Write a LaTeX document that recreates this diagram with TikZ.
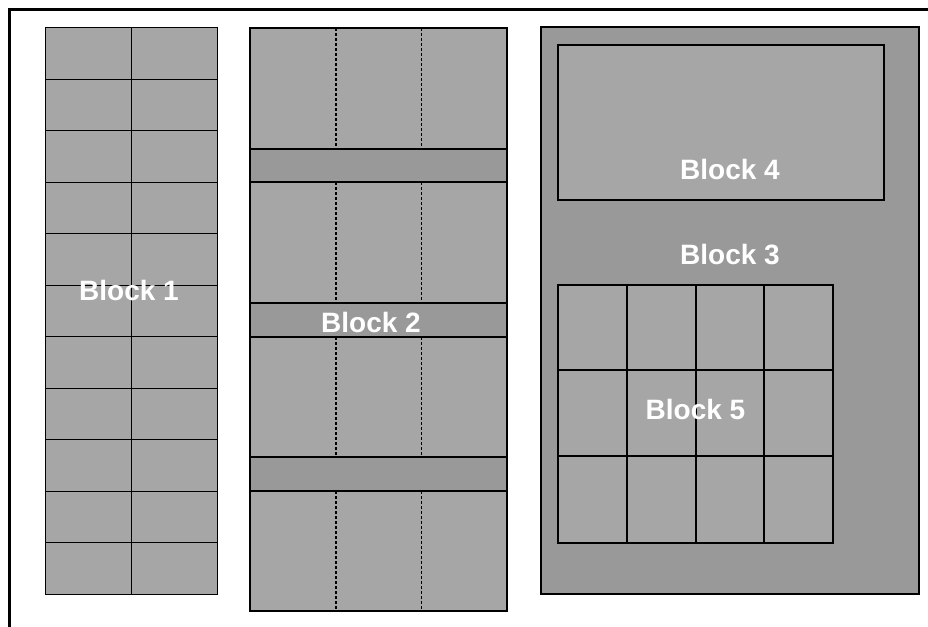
\documentclass[tikz,border=0pt]{standalone}
\usepackage{fontspec}
\setmainfont{Liberation Sans}
\definecolor{cellgray}{HTML}{A6A6A6}
\definecolor{darkgray}{HTML}{999999}
\begin{document}
\begin{tikzpicture}[x=1pt,y=-1pt,
  cell/.style={fill=cellgray,draw=black,line width=1pt},
  band/.style={fill=darkgray,draw=black,line width=1.5pt},
  outer/.style={fill=darkgray,draw=black,line width=2pt},
  inner/.style={fill=cellgray,draw=black,line width=2pt},
  lbl/.style={text=white,font=\fontsize{28}{28}\selectfont\bfseries,inner sep=0pt},
  dotA/.style={line width=1.4pt,dash pattern=on 3pt off 2pt},
  dotB/.style={line width=0.8pt,dash pattern=on 3pt off 2pt}]
\useasboundingbox (0,0) rectangle (928,626);
\fill[white] (0,0) rectangle (928,626);
% outer frame (extends beyond the picture)
\begin{scope}
\clip (0,0) rectangle (928,626);
\draw[line width=3pt] (9.5,9.5) rectangle (940,640);
\end{scope}
% Block 1
\draw[cell] (45,28) rectangle (217,594);
\draw[line width=1pt] (131,28) -- (131,594);
\foreach \i in {1,...,10} {
  \draw[line width=1pt] (45,{28+\i*51.45}) -- (217,{28+\i*51.45});
}
\node[lbl] (b1) at (129,290) {Block 1};
% Block 2
\draw[cell,line width=1.5pt] (250,28) rectangle (507,611);
\foreach \y/\h in {149/182,303/337,457/491} {
  \draw[band] (250,\y) rectangle (507,\h);
}
\foreach \a/\b in {28/149,182/303,337/457,491/611} {
  \draw[dotA] (336,\a) -- (336,\b);
  \draw[dotB] (421.5,\a) -- (421.5,\b);
}
\node[lbl] (b2) at (371,322) {Block 2};
% Block 3
\draw[outer] (541,27) rectangle (919,594);
\node[lbl] (b3) at (730,255) {Block 3};
% Block 4
\draw[inner] (558,45) rectangle (884,200);
\node[lbl] (b4) at (730,169) {Block 4};
% Block 5
\draw[inner] (558,285) rectangle (832.5,543);
\foreach \x in {626.5,695.5,764} {
  \draw[line width=2pt] (\x,285) -- (\x,543);
}
\foreach \y in {370,456} {
  \draw[line width=2pt] (558,\y) -- (832.5,\y);
}
\node[lbl] (b5) at (695.5,409) {Block 5};
\end{tikzpicture}
\end{document}
